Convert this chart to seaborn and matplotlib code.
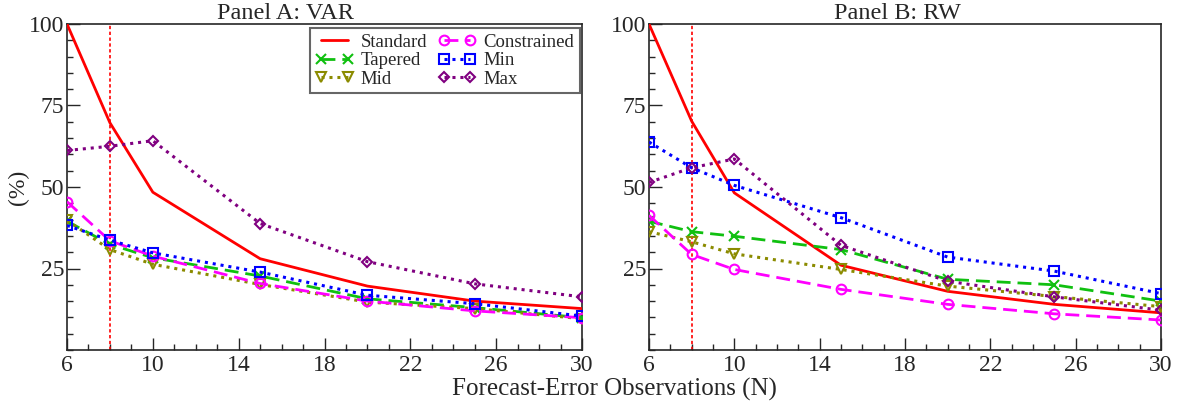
import matplotlib
matplotlib.use("Agg")
import matplotlib.pyplot as plt
import seaborn as sns
import pandas as pd
from matplotlib.ticker import MultipleLocator

# Forecast-error observations
n_obs = [6, 8, 10, 15, 20, 25, 30]

# Panel A: VAR
var_standard = [100, 69.7, 48.4, 28.0, 19.6, 15.0, 12.7]
var_tapered = [39.5, 32.4, 28.3, 22.7, 15.7, 13.0, 9.9]
var_mid = [39.8, 30.8, 26.3, 20.1, 14.7, 12.7, 9.6]
var_constrained = [45.5, 33.5, 28.8, 20.4, 15.0, 12.0, 9.9]
var_min = [38.2, 33.7, 29.8, 23.9, 16.8, 14.2, 10.4]
var_max = [61.2, 62.5, 64.2, 38.8, 27.1, 20.3, 16.3]

# Panel B: RW
rw_standard = [100, 70.2, 48.2, 26.0, 18.0, 14.0, 11.4]
rw_tapered = [39.5, 36.3, 34.9, 30.8, 21.7, 20.0, 15.0]
rw_mid = [36.3, 33.2, 29.5, 24.7, 19.6, 16.4, 13.3]
rw_constrained = [41.3, 29.3, 24.7, 18.6, 14.0, 11.1, 9.2]
rw_min = [63.8, 55.9, 50.5, 40.6, 28.5, 24.2, 17.3]
rw_max = [51.4, 55.9, 58.6, 32.1, 21.1, 16.3, 12.2]

series_names = ["Standard", "Tapered", "Mid", "Constrained", "Min", "Max"]
panels = {
    "Panel A: VAR": [var_standard, var_tapered, var_mid, var_constrained, var_min, var_max],
    "Panel B: RW": [rw_standard, rw_tapered, rw_mid, rw_constrained, rw_min, rw_max],
}
cutoff = 8
x_ticks = [6, 10, 14, 18, 22, 26, 30]
y_ticks = [25, 50, 75, 100]

styles = {
    "Standard": dict(color="#ff0000", marker=None, linestyle="-", lw=2.0),
    "Tapered": dict(color="#10c010", marker="x", linestyle=(0, (5, 2.5)), lw=2.0),
    "Mid": dict(color="#8b8b00", marker="v", linestyle=(0, (1, 1.6)), lw=2.2),
    "Constrained": dict(color="#ff00ff", marker="o", linestyle=(0, (5, 2.5)), lw=2.0),
    "Min": dict(color="#0000ff", marker="s", linestyle=(0, (1, 1.6)), lw=2.2),
    "Max": dict(color="#800080", marker="D", linestyle=(0, (1, 1.6)), lw=2.2),
}
marker_sizes = {"x": 7, "v": 7, "o": 7, "s": 7, "D": 5}

sns.set_style("ticks")
plt.rcParams["font.family"] = ["Liberation Serif", "DejaVu Serif"]

W, H = 1185, 403
fig = plt.figure(figsize=(W / 100, H / 100), dpi=100)
bottom = 1 - 350 / H
height = (350 - 24) / H
ax_a = fig.add_axes([67 / W, bottom, (582 - 67) / W, height])
ax_b = fig.add_axes([649 / W, bottom, (1161 - 649) / W, height])
axes = [ax_a, ax_b]
title_x = [0.425, 0.485]

for ax, tx, (title, values) in zip(axes, title_x, panels.items()):
    # vertical marker at N = 8
    ax.axvline(cutoff, color="#ff0000", linestyle=(0, (2, 1.5)), lw=1.2, zorder=1)
    handles = []
    for name, vals in zip(series_names, values):
        st = styles[name]
        df = pd.DataFrame({"N": n_obs, "pct": vals})
        sns.lineplot(data=df, x="N", y="pct", ax=ax, color=st["color"],
                     linestyle=st["linestyle"], linewidth=st["lw"],
                     marker=st["marker"],
                     markersize=marker_sizes.get(st["marker"], 0),
                     markerfacecolor="none", markeredgecolor=st["color"],
                     markeredgewidth=1.5, label=name, zorder=3)
        handles.append(ax.lines[-1])
    ax.set_xlim(6, 30)
    ax.set_ylim(0, 100)
    ax.set_xticks(x_ticks)
    ax.xaxis.set_minor_locator(MultipleLocator(1))
    ax.set_yticks(y_ticks)
    ax.yaxis.set_minor_locator(MultipleLocator(5))
    ax.tick_params(which="both", direction="in", labelsize=17, width=1)
    ax.tick_params(which="major", length=9)
    ax.tick_params(which="minor", length=4.5)
    ax.tick_params(axis="x", pad=3.5)
    ax.tick_params(axis="y", pad=2)
    ax.set_title(title, fontsize=17.5, x=tx, pad=1)
    ax.set_xlabel("")
    ax.set_ylabel("")
    for sp in ax.spines.values():
        sp.set_linewidth(1.2)
        sp.set_visible(True)
    if ax is ax_a:
        ax.legend(handles=handles, ncol=2, numpoints=2, loc="upper right",
                  bbox_to_anchor=(0.996, 0.988), borderaxespad=0,
                  fontsize=13.5, frameon=True, fancybox=False, edgecolor="#404040",
                  handlelength=2.0, columnspacing=0.6, labelspacing=0.07,
                  borderpad=0.3, handletextpad=0.4)
        ax.get_legend().get_frame().set_linewidth(1.5)
        ax.set_ylabel("(%)", fontsize=17, labelpad=0)
    elif ax.get_legend() is not None:
        ax.get_legend().remove()

fig.text(614 / W, 0.006, "Forecast-Error Observations (N)", ha="center", va="bottom", fontsize=18)

fig.savefig("out.png", dpi=100)
